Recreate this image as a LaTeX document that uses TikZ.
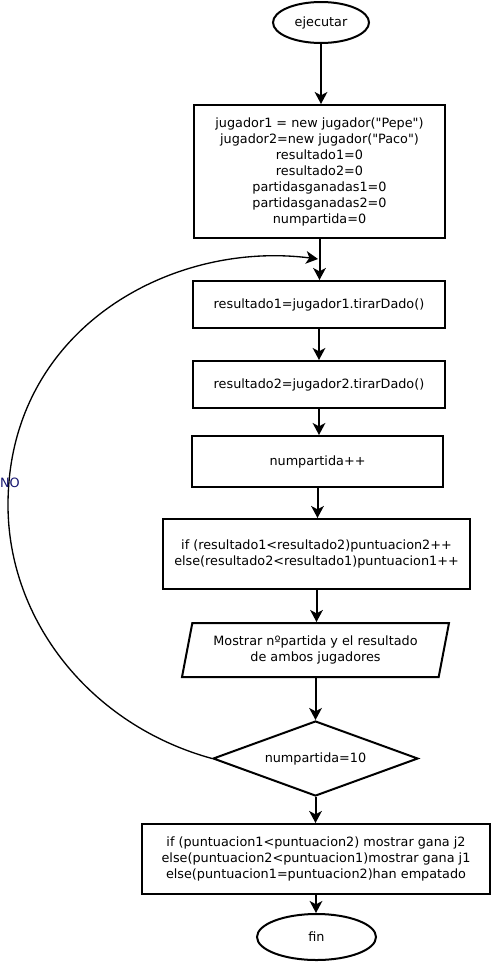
\documentclass[tikz,border=0pt]{standalone}
\usepackage{fontspec}
\setmainfont{DejaVu Sans}
\usetikzlibrary{shapes.geometric,arrows.meta}
\definecolor{azulno}{RGB}{20,20,110}

\begin{document}
\begin{tikzpicture}[x=0.75pt,y=-0.75pt,
  font=\fontsize{9.6}{12}\selectfont,
  caja/.style={draw,line width=1.5pt,inner sep=0pt,align=center},
  ovalo/.style={draw,ellipse,line width=1.5pt,inner sep=0pt},
  flecha/.style={-{Stealth[length=9pt,width=9.5pt,inset=2.5pt]},line width=1.5pt}]
\useasboundingbox (0,0) rectangle (493,964);

\node [ovalo,minimum width=72pt,minimum height=30.75pt] (ejecutar) at (321,22.5) {ejecutar};
\node [caja,minimum width=188.25pt,minimum height=99.75pt] (inicio) at (319.5,171.5)
  {jugador1 = new jugador(\textquotedbl Pepe\textquotedbl)\\jugador2=new jugador(\textquotedbl Paco\textquotedbl)\\resultado1=0\\resultado2=0\\partidasganadas1=0\\partidasganadas2=0\\numpartida=0};
\node [caja,minimum width=189pt,minimum height=35.25pt] (tirar1) at (319,304.5) {resultado1=jugador1.tirarDado()};
\node [caja,minimum width=189pt,minimum height=35.25pt] (tirar2) at (319,384.5) {resultado2=jugador2.tirarDado()};
\node [caja,minimum width=188.25pt,minimum height=38.25pt] (cuenta) at (317.5,461.5) {numpartida++};
\node [caja,minimum width=230.25pt,minimum height=52.5pt] (puntos) at (316.5,554)
  {if (resultado1<resultado2)puntuacion2++\\else(resultado2<resultado1)puntuacion1++};
\node [caja,trapezium,trapezium left angle=70,trapezium right angle=110,trapezium stretches body,
  minimum width=200.25pt,minimum height=40.5pt] (mostrar) at (315.5,650)
  {Mostrar nºpartida y el resultado\\de ambos jugadores};
\node [caja,diamond,aspect=2.7,minimum width=153.75pt,minimum height=56.25pt] (fin10) at (315.5,758.5) {numpartida=10};
\node [caja,minimum width=261pt,minimum height=52.5pt] (ganador) at (316,859)
  {if (puntuacion1<puntuacion2) mostrar gana j2\\else(puntuacion2<puntuacion1)mostrar gana j1\\else(puntuacion1=puntuacion2)han empatado};
\node [ovalo,minimum width=89.25pt,minimum height=34.5pt] (fin) at (316.5,937) {fin};
\coordinate (vuelta) at (318,259);

\draw [flecha] (ejecutar.south) -- (ejecutar.south |- inicio.north);
\draw [flecha] (inicio.south) -- (inicio.south |- tirar1.north);
\draw [flecha] (tirar1.south) -- (tirar1.south |- tirar2.north);
\draw [flecha] (tirar2.south) -- (tirar2.south |- cuenta.north);
\draw [flecha] (cuenta.south) -- (cuenta.south |- puntos.north);
\draw [flecha] (puntos.south) -- (puntos.south |- mostrar.north);
\draw [flecha] (mostrar.south) -- (mostrar.south |- fin10.north);
\draw [flecha] (fin10.south) -- (fin10.south |- ganador.north);
\draw [flecha] (ganador.south) -- (ganador.south |- fin.north);

\draw [-{Stealth[length=9pt,width=9.5pt,inset=2.5pt]},line width=1pt] (fin10.west)
  .. controls (90,725) and (8,620) .. (8,505)
  .. controls (8,330) and (170,240) .. (vuelta);
\node [text=azulno] (no) at (10,483) {NO};

\end{tikzpicture}
\end{document}
